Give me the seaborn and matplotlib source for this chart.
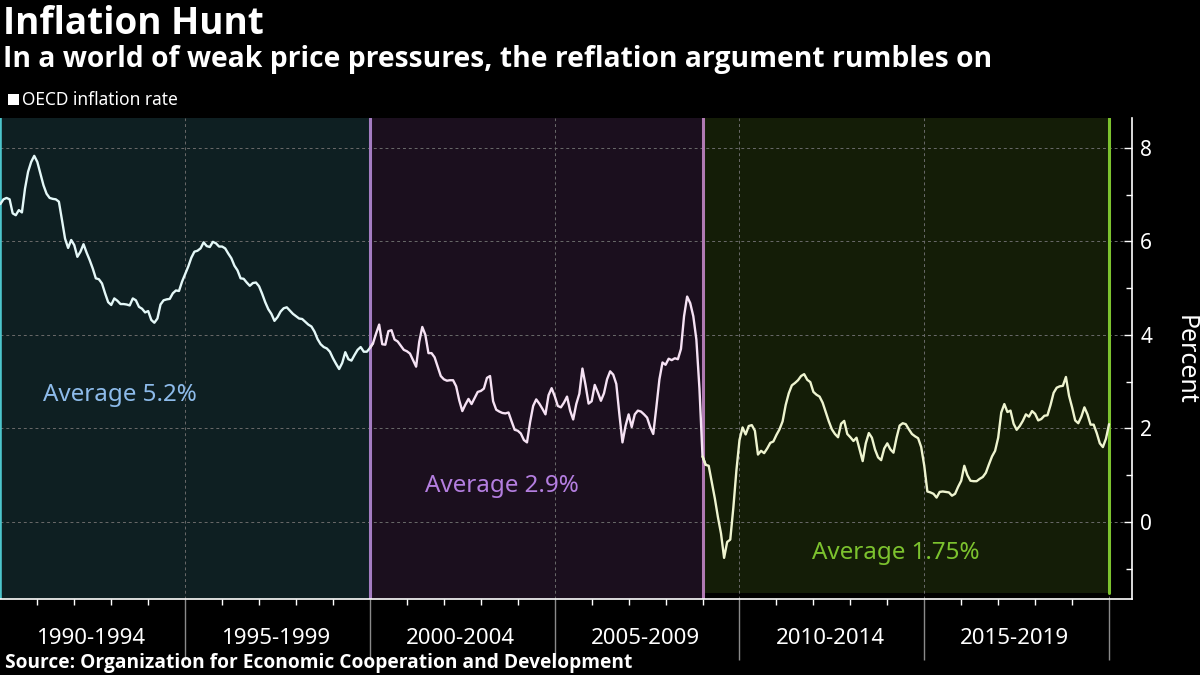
import numpy as np
import pandas as pd
import matplotlib
matplotlib.use("Agg")
import matplotlib.pyplot as plt
import seaborn as sns
from matplotlib.transforms import blended_transform_factory
from matplotlib.patches import Rectangle
from matplotlib.ticker import FixedLocator

# ---------------- data (monthly OECD inflation, %, from Jan 1990) ----------------
infl_1990s = [
    6.8, 6.9, 6.93, 6.9, 6.6, 6.56, 6.67, 6.62, 7.13, 7.49, 7.7, 7.83,
    7.7, 7.45, 7.2, 7.02, 6.93, 6.91, 6.9, 6.85, 6.46, 6.06, 5.86, 6.03,
    5.92, 5.67, 5.78, 5.94, 5.76, 5.6, 5.42, 5.21, 5.19, 5.1, 4.89, 4.7,
    4.64, 4.78, 4.73, 4.66, 4.66, 4.65, 4.63, 4.78, 4.74, 4.6, 4.56, 4.48,
    4.51, 4.32, 4.26, 4.35, 4.65, 4.74, 4.76, 4.77, 4.89, 4.95, 4.94, 5.14,
    5.3, 5.46, 5.65, 5.78, 5.8, 5.85, 5.98, 5.9, 5.88, 5.99, 5.96, 5.89,
    5.89, 5.85, 5.74, 5.64, 5.48, 5.38, 5.21, 5.2, 5.12, 5.05, 5.11, 5.12,
    5.04, 4.88, 4.7, 4.55, 4.45, 4.3, 4.38, 4.5, 4.57, 4.59, 4.52, 4.45,
    4.4, 4.35, 4.34, 4.28, 4.22, 4.18, 4.07, 3.91, 3.8, 3.74, 3.71, 3.64,
    3.5, 3.38, 3.27, 3.4, 3.63, 3.48, 3.45, 3.57, 3.68, 3.74, 3.64, 3.64,
]
infl_2000s = [
    3.72, 3.82, 4.03, 4.22, 3.8, 3.79, 4.08, 4.1, 3.9, 3.86, 3.77, 3.68,
    3.65, 3.6, 3.46, 3.32, 3.85, 4.17, 4.0, 3.61, 3.61, 3.52, 3.32, 3.12,
    3.05, 3.02, 3.03, 3.03, 2.9, 2.6, 2.37, 2.51, 2.63, 2.52, 2.65, 2.78,
    2.8, 2.85, 3.08, 3.12, 2.58, 2.4, 2.36, 2.33, 2.32, 2.34, 2.15, 1.97,
    1.95, 1.89, 1.75, 1.7, 2.13, 2.48, 2.62, 2.53, 2.42, 2.3, 2.71, 2.86,
    2.69, 2.48, 2.45, 2.55, 2.68, 2.38, 2.19, 2.52, 2.74, 3.28, 2.93, 2.53,
    2.58, 2.93, 2.77, 2.59, 2.75, 3.05, 3.22, 3.15, 2.95, 2.3, 1.7, 2.05,
    2.3, 2.03, 2.3, 2.38, 2.36, 2.3, 2.23, 2.03, 1.88, 2.45, 3.05, 3.41,
    3.36, 3.49, 3.46, 3.5, 3.48, 3.7, 4.4, 4.82, 4.68, 4.4, 3.9, 2.85,
]
infl_2009_on = [
    1.4, 1.22, 1.2, 0.85, 0.5, 0.1, -0.25, -0.77, -0.43, -0.38, 0.3, 1.1,
    1.75, 2.02, 1.87, 2.05, 2.07, 1.95, 1.44, 1.52, 1.47, 1.57, 1.69, 1.72,
    1.86, 1.98, 2.15, 2.5, 2.75, 2.92, 2.97, 3.03, 3.12, 3.16, 3.04, 2.99,
    2.78, 2.72, 2.68, 2.55, 2.35, 2.15, 1.98, 1.88, 1.81, 2.1, 2.16, 1.88,
    1.81, 1.73, 1.8, 1.55, 1.3, 1.68, 1.9, 1.8, 1.55, 1.38, 1.32, 1.57,
    1.68, 1.55, 1.48, 1.8, 2.06, 2.11, 2.09, 1.98, 1.88, 1.83, 1.79, 1.6,
    1.2, 0.65, 0.63, 0.6, 0.52, 0.64, 0.65, 0.64, 0.63, 0.56, 0.6, 0.75,
    0.88, 1.2, 1.0, 0.88, 0.87, 0.87, 0.92, 0.96, 1.05, 1.23, 1.4, 1.52,
    1.8, 2.34, 2.52, 2.35, 2.38, 2.1, 1.97, 2.05, 2.16, 2.3, 2.25, 2.37,
    2.31, 2.17, 2.2, 2.27, 2.28, 2.5, 2.76, 2.87, 2.9, 2.91, 3.1, 2.7,
    2.45, 2.17, 2.11, 2.25, 2.45, 2.3, 2.08, 2.08, 1.9, 1.68, 1.6, 1.78,
    2.09,
]
period_bounds = [1990, 2000, 2009, 2020]
period_averages = ["Average 5.2%", "Average 2.9%", "Average 1.75%"]
x_periods = ["1990-1994", "1995-1999", "2000-2004", "2005-2009", "2010-2014", "2015-2019"]
x_period_mid = [1992.5, 1997.5, 2002.5, 2007.5, 2012.5, 2017.5]
y_ticks = [0, 2, 4, 6, 8]

# ---------------- styling ----------------
region_fill = ["#0e1f22", "#1b0f1e", "#141d07"]
region_edge = ["#4cc5cc", "#a47cc2", "#7cc22e"]
line_tints = ["#e4f8f8", "#f6e2f4", "#eef4cf"]
avg_colors = ["#8dbbea", "#b47ee0", "#7cc22e"]
avg_pos = [(1991.15, 2.72), (2001.5, 0.77), (2011.95, -0.66)]
BOLD = ["Open Sans", "DejaVu Sans"]

sns.set_theme(style="dark")
plt.rcParams['font.family'] = ['Noto Sans', 'DejaVu Sans']

values = infl_1990s + infl_2000s + infl_2009_on
dates = 1990 + np.arange(len(values)) / 12.0
df = pd.DataFrame({"date": dates, "value": values})

fig = plt.figure(figsize=(12, 6.75), dpi=100, facecolor="black")
ax = fig.add_axes([0.0, 0.1126, 0.9433, 0.7126])
ax.set_facecolor("black")

YMIN, YMAX = -1.65, 8.64
ax.set_xlim(1989.99, 2020.62)
ax.set_ylim(YMIN, YMAX)

green_floor = (-1.52 - YMIN) / (YMAX - YMIN)
ax.axvspan(period_bounds[0], period_bounds[1], color=region_fill[0], zorder=0.2, lw=0)
ax.axvspan(period_bounds[1], period_bounds[2], color=region_fill[1], zorder=0.2, lw=0)
ax.axvspan(period_bounds[2], period_bounds[3], ymin=green_floor, color=region_fill[2], zorder=0.2, lw=0)

ax.set_axisbelow(True)
ax.grid(True, which="major", axis="both", color="#6a6a6a", linestyle=(0, (3, 3)), linewidth=0.7)

ax.axvline(period_bounds[0], color=region_edge[0], lw=2.6, zorder=1.5)
ax.axvline(period_bounds[1], color=region_edge[1], lw=2.2, zorder=1.5)
ax.axvline(period_bounds[2], color="#b07ab2", lw=2.2, zorder=1.5)
ax.axvline(period_bounds[3], ymin=green_floor, color=region_edge[2], lw=2.2, zorder=1.5)

# line, one tint per period
for i in range(3):
    lo, hi = period_bounds[i], period_bounds[i + 1]
    seg = df[(df["date"] >= lo) & (df["date"] <= hi + 1e-9)]
    nxt = df[df["date"] > hi + 1e-9].head(1)
    seg = pd.concat([seg, nxt])
    sns.lineplot(data=seg, x="date", y="value", ax=ax, color=line_tints[i],
                 linewidth=1.7, legend=False, zorder=3, estimator=None)

for lab, col, (xx, yy) in zip(period_averages, avg_colors, avg_pos):
    ax.text(xx, yy, lab, color=col, fontsize=17.4, ha="left", va="center", zorder=4)

# axes styling
for s in ["top", "left"]:
    ax.spines[s].set_visible(False)
for s in ["right", "bottom"]:
    ax.spines[s].set_visible(True)
    ax.spines[s].set_color("white")
    ax.spines[s].set_linewidth(1.2)

ax.set_xlabel("")
ax.set_ylabel("")
ax.yaxis.tick_right()
ax.set_yticks(y_ticks)
ax.set_yticklabels([str(v) for v in y_ticks])
ax.yaxis.set_minor_locator(FixedLocator([-1, 1, 3, 5, 7]))
ax.tick_params(axis="y", which="major", direction="in", length=6, width=1, colors="white",
               labelsize=15, pad=6, right=True, left=False)
ax.tick_params(axis="y", which="minor", direction="in", length=4, width=1, colors="white",
               right=True, left=False)

ax.set_xticks([1995, 2000, 2005, 2010, 2015, 2020])
ax.set_xticklabels([])
ax.xaxis.set_minor_locator(FixedLocator([y for y in range(1991, 2020) if y % 5 != 0]))
ax.tick_params(axis="x", which="major", direction="out", length=44, width=1, color="#8a8a8a", bottom=True)
ax.tick_params(axis="x", which="minor", direction="out", length=4, width=1, color="white", bottom=True)

trans = blended_transform_factory(ax.transData, ax.transAxes)
for lab, mid in zip(x_periods, x_period_mid):
    ax.text(mid - 0.05, -0.083, lab, transform=trans, ha="center", va="center", color="white",
            fontsize=16, clip_on=False)

W, H = 1200, 675
fig.text(1185 / W, 1 - 360 / H, "Percent", rotation=270, ha="center", va="center",
         color="white", fontsize=18)

fig.text(3 / W, 1 - 24 / H, "Inflation Hunt", ha="left", va="center", color="white",
         fontsize=26.6, fontweight="bold", family=BOLD)
fig.text(3 / W, 1 - 59 / H, "In a world of weak price pressures, the reflation argument rumbles on",
         ha="left", va="center", color="white", fontsize=20.3, fontweight="bold", family=BOLD)
fig.patches.append(Rectangle((8 / W, 1 - 105 / H), 11 / W, 11 / H, transform=fig.transFigure,
                             facecolor="white", edgecolor="none"))
fig.text(22 / W, 1 - 100 / H, "OECD inflation rate", ha="left", va="center", color="white",
         fontsize=12.5)
fig.text(5 / W, 1 - 663 / H, "Source: Organization for Economic Cooperation and Development",
         ha="left", va="center", color="white", fontsize=13.8, fontweight="bold", family=BOLD)

fig.savefig("out.png", dpi=100, facecolor="black")
